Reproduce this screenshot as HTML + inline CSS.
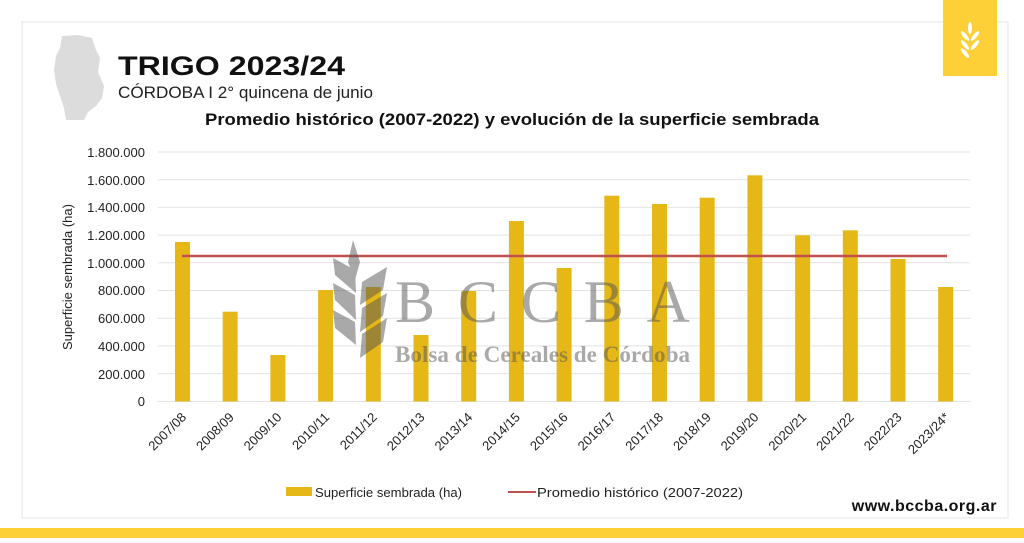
<!DOCTYPE html>
<html><head><meta charset="utf-8"><style>
body{margin:0;width:1024px;height:538px;background:#fff;overflow:hidden;font-family:"Liberation Sans",sans-serif}
</style></head><body>
<svg width="1024" height="538" viewBox="0 0 1024 538" xmlns="http://www.w3.org/2000/svg" font-family="Liberation Sans, sans-serif">
<rect x="22" y="22" width="986" height="496" fill="none" stroke="#eeeeee" stroke-width="1.5"/>
<rect x="0" y="528" width="1024" height="10" fill="#fdd135"/>
<rect x="943" y="0" width="54" height="76" fill="#fcd036"/>
<g fill="#fff"><ellipse cx="970" cy="28" rx="2" ry="6"/><ellipse cx="965" cy="36" rx="2" ry="6" transform="rotate(-40 965 36)"/><ellipse cx="975" cy="36" rx="2" ry="6" transform="rotate(40 975 36)"/><ellipse cx="965" cy="45" rx="2" ry="6" transform="rotate(-40 965 45)"/><ellipse cx="975" cy="45" rx="2" ry="6" transform="rotate(40 975 45)"/><ellipse cx="965" cy="53" rx="2" ry="6" transform="rotate(-40 965 53)"/></g>
<path d="M62 36 L78 35 L92 38 L96 50 L100 58 L98 72 L104 86 L102 98 L96 106 L88 112 L84 120 L66 120 L64 108 L60 96 L56 84 L54 70 L56 56 L60 48 Z" fill="#dcdcdc"/>
<text x="118" y="75" font-size="27" font-weight="bold" fill="#111" textLength="227" lengthAdjust="spacingAndGlyphs">TRIGO 2023/24</text>
<text x="118" y="98" font-size="16.5" fill="#222" textLength="255" lengthAdjust="spacingAndGlyphs">CÓRDOBA I 2° quincena de junio</text>
<text x="205" y="125" font-size="16.5" font-weight="bold" fill="#111" textLength="614" lengthAdjust="spacingAndGlyphs">Promedio histórico (2007-2022) y evolución de la superficie sembrada</text>
<g stroke="#e3e3e3" stroke-width="1">
<line x1="158" x2="970" y1="152" y2="152"/><line x1="158" x2="970" y1="179.7" y2="179.7"/><line x1="158" x2="970" y1="207.4" y2="207.4"/><line x1="158" x2="970" y1="235.1" y2="235.1"/><line x1="158" x2="970" y1="262.8" y2="262.8"/><line x1="158" x2="970" y1="290.5" y2="290.5"/><line x1="158" x2="970" y1="318.2" y2="318.2"/><line x1="158" x2="970" y1="345.9" y2="345.9"/><line x1="158" x2="970" y1="373.6" y2="373.6"/><line x1="158" x2="970" y1="401.5" y2="401.5"/>
</g>
<g font-size="13" fill="#222" text-anchor="end">
<text x="145" y="157">1.800.000</text><text x="145" y="185">1.600.000</text><text x="145" y="212">1.400.000</text><text x="145" y="240">1.200.000</text><text x="145" y="268">1.000.000</text><text x="145" y="295">800.000</text><text x="145" y="323">600.000</text><text x="145" y="351">400.000</text><text x="145" y="379">200.000</text><text x="145" y="406">0</text>
</g>
<text transform="translate(72 277) rotate(-90)" font-size="13" fill="#222" text-anchor="middle">Superficie sembrada (ha)</text>
<g fill="#e6b817">
<rect x="175" y="242" width="15" height="159.5"/>
<rect x="222.7" y="311.7" width="15" height="89.8"/>
<rect x="270.4" y="355" width="15" height="46.5"/>
<rect x="318.1" y="290" width="15" height="111.5"/>
<rect x="365.8" y="287" width="15" height="114.5"/>
<rect x="413.5" y="335" width="15" height="66.5"/>
<rect x="461.2" y="291" width="15" height="110.5"/>
<rect x="508.9" y="221" width="15" height="180.5"/>
<rect x="556.6" y="268" width="15" height="133.5"/>
<rect x="604.3" y="195.7" width="15" height="205.8"/>
<rect x="652" y="204" width="15" height="197.5"/>
<rect x="699.7" y="197.7" width="15" height="203.8"/>
<rect x="747.4" y="175.3" width="15" height="226.2"/>
<rect x="795.1" y="235.3" width="15" height="166.2"/>
<rect x="842.8" y="230.3" width="15" height="171.2"/>
<rect x="890.5" y="259" width="15" height="142.5"/>
<rect x="938.2" y="287" width="15" height="114.5"/>
</g>
<line x1="182" x2="947" y1="256" y2="256" stroke="#c0504d" stroke-width="2.5"/>
<g opacity="0.5" fill="#555">
<text x="395" y="322" font-family="Liberation Serif, serif" font-size="60" textLength="295" lengthAdjust="spacing">BCCBA</text>
<text x="395" y="362" font-family="Liberation Serif, serif" font-size="23" font-weight="bold" textLength="295" lengthAdjust="spacingAndGlyphs">Bolsa de Cereales de Córdoba</text>
<path d="M353 240 L360 262 L355 280 L348 262 Z"/>
<path d="M333 283 L355 295 L356 320 L335 300 Z M333 310 L355 322 L356 345 L335 328 Z M333 258 L355 270 L356 293 L335 275 Z"/>
<path d="M387 267 L362 282 L360 305 L383 290 Z M387 293 L362 308 L360 332 L383 316 Z M387 318 L362 334 L360 358 L383 342 Z"/>
</g>
<g font-size="13" fill="#222" text-anchor="end">
<text transform="translate(187 418) rotate(-45)">2007/08</text>
<text transform="translate(234.7 418) rotate(-45)">2008/09</text>
<text transform="translate(282.4 418) rotate(-45)">2009/10</text>
<text transform="translate(330.1 418) rotate(-45)">2010/11</text>
<text transform="translate(377.8 418) rotate(-45)">2011/12</text>
<text transform="translate(425.5 418) rotate(-45)">2012/13</text>
<text transform="translate(473.2 418) rotate(-45)">2013/14</text>
<text transform="translate(520.9 418) rotate(-45)">2014/15</text>
<text transform="translate(568.6 418) rotate(-45)">2015/16</text>
<text transform="translate(616.3 418) rotate(-45)">2016/17</text>
<text transform="translate(664 418) rotate(-45)">2017/18</text>
<text transform="translate(711.7 418) rotate(-45)">2018/19</text>
<text transform="translate(759.4 418) rotate(-45)">2019/20</text>
<text transform="translate(807.1 418) rotate(-45)">2020/21</text>
<text transform="translate(854.8 418) rotate(-45)">2021/22</text>
<text transform="translate(902.5 418) rotate(-45)">2022/23</text>
<text transform="translate(950.2 418) rotate(-45)">2023/24*</text>
</g>
<rect x="286" y="487" width="26" height="9" fill="#e6b817"/>
<text x="315" y="497" font-size="13" fill="#222" textLength="147" lengthAdjust="spacingAndGlyphs">Superficie sembrada (ha)</text>
<line x1="508" x2="536" y1="492" y2="492" stroke="#c0504d" stroke-width="2"/>
<text x="537" y="497" font-size="13" fill="#222" textLength="206" lengthAdjust="spacingAndGlyphs">Promedio histórico (2007-2022)</text>
<text x="997" y="511" font-size="16" font-weight="bold" fill="#111" text-anchor="end" letter-spacing="0.5">www.bccba.org.ar</text>
</svg>
</body></html>
